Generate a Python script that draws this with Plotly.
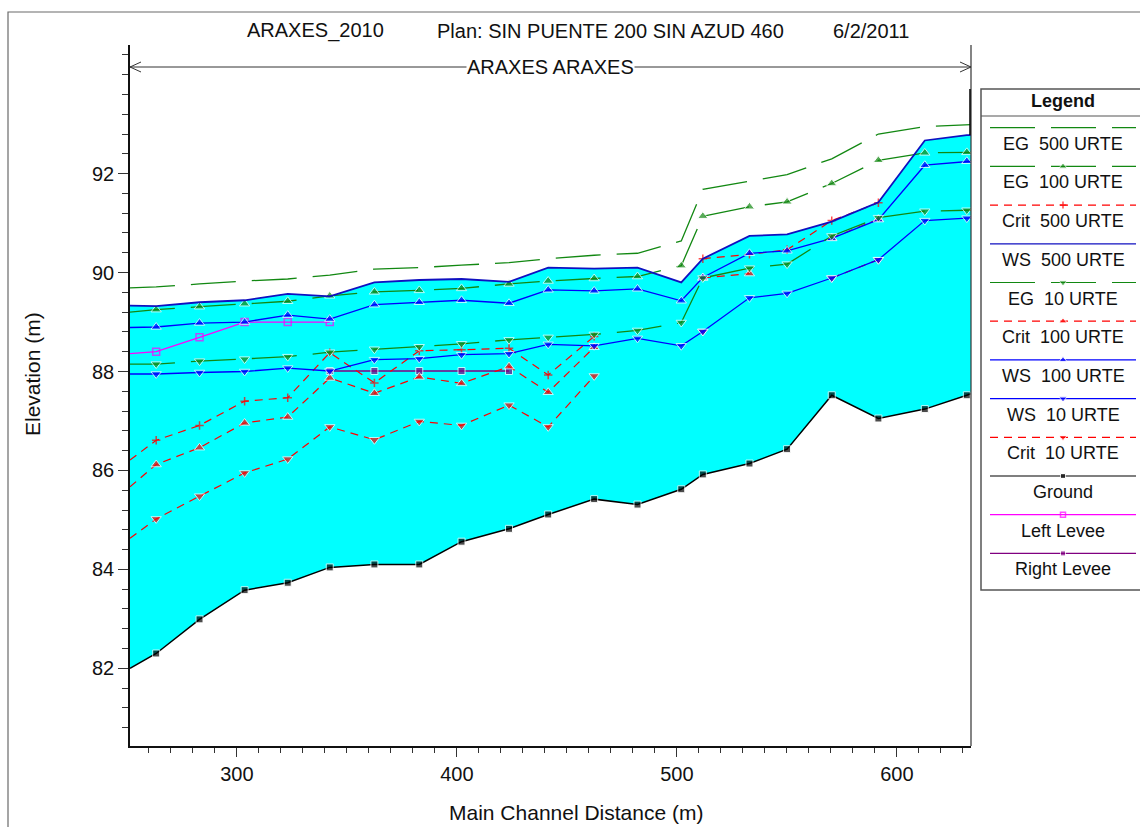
import plotly.graph_objects as go

W, H = 1140, 827

# ---------------- data ----------------
stations = [251.4, 263.3, 283.0, 303.5, 323.1, 342.2, 362.5, 382.9, 402.1, 423.7,
            441.5, 462.4, 482.1, 502.0, 511.8, 533.0, 550.1, 570.4, 591.6, 612.7,
            631.8, 633.7]

ground = [82.00, 82.30, 82.99, 83.58, 83.73, 84.04, 84.10, 84.10, 84.56, 84.82,
          85.11, 85.42, 85.31, 85.62, 85.92, 86.14, 86.43, 87.52, 87.05, 87.24,
          87.52, 87.55]
ws_500 = [89.33, 89.32, 89.40, 89.44, 89.57, 89.52, 89.80, 89.85, 89.87, 89.81,
          90.10, 90.08, 90.10, 89.80, 90.28, 90.74, 90.77, 91.03, 91.42, 92.67,
          92.78, 92.78]
eg_500 = [89.69, 89.71, 89.77, 89.83, 89.87, 89.95, 90.07, 90.10, 90.15, 90.20,
          90.28, 90.35, 90.39, 90.64, 91.68, 91.85, 91.98, 92.30, 92.80, 92.95,
          92.99, 92.99]
eg_100 = [89.20, 89.25, 89.31, 89.37, 89.42, 89.53, 89.61, 89.64, 89.68, 89.77,
          89.83, 89.88, 89.92, 90.14, 91.14, 91.33, 91.43, 91.80, 92.27, 92.42,
          92.43, 92.43]
ws_100 = [88.89, 88.90, 88.98, 89.00, 89.14, 89.06, 89.35, 89.40, 89.44, 89.38,
          89.65, 89.63, 89.67, 89.43, 89.90, 90.39, 90.44, 90.69, 91.07, 92.17,
          92.25, 92.25]
eg_10 = [88.15, 88.15, 88.21, 88.25, 88.30, 88.39, 88.45, 88.50, 88.56, 88.64,
         88.69, 88.75, 88.83, 88.99, 89.89, 90.09, 90.17, 90.74, 91.11, 91.24,
         91.26, 91.26]
ws_10 = [87.95, 87.95, 87.98, 88.00, 88.07, 88.01, 88.24, 88.26, 88.34, 88.36,
         88.55, 88.52, 88.67, 88.52, 88.81, 89.49, 89.58, 89.89, 90.26, 91.05,
         91.10, 91.10]
crit_500 = [86.21, 86.61, 86.91, 87.40, 87.47, 88.38, 87.77, 88.42, 88.44, 88.47,
            87.93, 88.71, None, None, 90.28, 90.37, 90.46, 91.05, 91.41, None,
            None, None]
crit_100 = [85.67, 86.12, 86.46, 86.96, 87.08, 87.87, 87.56, 87.89, 87.76, 88.10,
            87.58, 88.49, None, None, 89.89, 89.98, None, 90.70, 91.08, None,
            None, None]
crit_10 = [84.63, 85.02, 85.48, 85.95, 86.23, 86.88, 86.62, 86.99, 86.91, 87.32,
           86.88, 87.91, None, None, 88.81, None, None, 89.89, 90.26, None,
           None, None]
left_levee = [88.36, 88.40, 88.69, 89.00, 89.00, 89.00, None, None, None, None,
              None, None, None, None, None, None, None, None, None, None,
              None, None]
right_levee = [None, None, None, None, None, 88.01, 88.01, 88.01, 88.01, 88.01,
               None, None, None, None, None, None, None, None, None, None,
               None, None]
end_wall = [92.78, 93.71]          # short heavy segment at the downstream end

x_ticks = [300, 400, 500, 600]
y_ticks = [82, 84, 86, 88, 90, 92]
x_range = [251.4, 633.7]
y_range = [80.43, 94.60]

title_parts = ["ARAXES_2010", "Plan: SIN PUENTE 200 SIN AZUD 460", "6/2/2011"]
reach_label = "ARAXES ARAXES"
x_title = "Main Channel Distance (m)"
y_title = "Elevation (m)"

# ---------------- styles ----------------
FONT = "Arial, 'Liberation Sans', sans-serif"
GREEN = "#128812"
RED = "#ff0000"
BLUE = "#0000ff"
DKBLUE = "#1010c0"
MAGENTA = "#ff00ff"
PURPLE = "#800080"
EG_DASH = "45px,16px"
CR_DASH = "8px,6px"

# name, values, color, dash, width, symbol, marker size
series = [
    ("EG\u00a0 500 URTE", eg_500, GREEN, EG_DASH, 1.3, None, 0),
    ("EG\u00a0 100 URTE", eg_100, GREEN, EG_DASH, 1.3, "triangle-up", 9),
    ("Crit\u00a0 500 URTE", crit_500, RED, CR_DASH, 1.2, "cross-thin", 6),
    ("WS\u00a0 500 URTE", ws_500, DKBLUE, "solid", 1.8, None, 0),
    ("EG\u00a0 10 URTE", eg_10, GREEN, EG_DASH, 1.3, "triangle-down", 9),
    ("Crit\u00a0 100 URTE", crit_100, RED, CR_DASH, 1.2, "triangle-up", 9),
    ("WS\u00a0 100 URTE", ws_100, BLUE, "solid", 1.3, "triangle-up", 9),
    ("WS\u00a0 10 URTE", ws_10, BLUE, "solid", 1.3, "triangle-down", 9),
    ("Crit\u00a0 10 URTE", crit_10, RED, CR_DASH, 1.2, "triangle-down", 9),
    ("Ground", ground, "#000000", "solid", 1.5, "square", 7),
    ("Left Levee", left_levee, MAGENTA, "solid", 1.3, "square-open", 7),
    ("Right Levee", right_levee, PURPLE, "solid", 1.3, "square", 7),
]

n = len(stations)


def msizes(size):
    # no symbol on the two sections that sit on the plot frame
    return [0] + [size] * (n - 2) + [0]


def marker_for(color, symbol, size):
    if symbol is None:
        return None
    m = dict(symbol=symbol, color=color, size=msizes(size))
    if symbol in ("cross-thin", "square-open"):
        m["line"] = dict(color=color, width=1.5)
    return m


fig = go.Figure()

# cyan water body between ground and the highest water surface
fig.add_trace(go.Scatter(x=stations, y=ground, mode="lines",
                         line=dict(width=0, color="rgba(0,0,0,0)"),
                         hoverinfo="skip", showlegend=False))
fig.add_trace(go.Scatter(x=stations, y=ws_500, mode="lines", fill="tonexty",
                         fillcolor="#00ffff", line=dict(width=0, color="rgba(0,0,0,0)"),
                         hoverinfo="skip", showlegend=False))

draw_order = [9, 11, 10, 8, 5, 2, 7, 6, 4, 1, 0, 3]
for i in draw_order:
    name, vals, color, dash, width, symbol, size = series[i]
    mk = marker_for(color, symbol, size)
    fig.add_trace(go.Scatter(
        x=stations, y=vals, name=name,
        mode="lines+markers" if mk else "lines",
        line=dict(color=color, dash=dash, width=width),
        marker=mk, connectgaps=False, showlegend=False))

# heavy segment at the downstream end of the reach
fig.add_trace(go.Scatter(x=[x_range[1], x_range[1]], y=end_wall, mode="lines",
                         line=dict(color="#000000", width=3.5),
                         hoverinfo="skip", showlegend=False))

# ---------------- pixel helpers for decorations ----------------
def px(xp):
    return xp / W


def py(yp):
    return 1 - yp / H


X0, X1 = 130, 971          # plot frame left / right (px)
Y0, Y1 = 45, 746           # plot frame top / bottom (px)

shapes = []
annotations = []

# outer frame of the window
shapes.append(dict(type="rect", xref="paper", yref="paper",
                   x0=px(8), x1=px(W + 20), y0=py(12), y1=py(H + 20),
                   line=dict(color="#6a6a6a", width=1.2)))
# reach boundary on the right
shapes.append(dict(type="line", xref="paper", yref="paper",
                   x0=px(X1), x1=px(X1), y0=py(Y0), y1=py(Y1),
                   line=dict(color="#333333", width=1.2)))
# reach arrow
RY = 67
shapes.append(dict(type="line", xref="paper", yref="paper",
                   x0=px(X0), x1=px(X1), y0=py(RY), y1=py(RY),
                   line=dict(color="#333333", width=1)))
for tip, back in ((X0, X0 + 11), (X1, X1 - 11)):
    shapes.append(dict(type="path", xref="paper", yref="paper",
                       path=f"M {px(back)},{py(RY - 5)} L {px(tip)},{py(RY)} L {px(back)},{py(RY + 5)}",
                       line=dict(color="#333333", width=1)))
annotations.append(dict(xref="paper", yref="paper", x=px(550), y=py(RY), text=reach_label,
                        showarrow=False, xanchor="center", yanchor="middle",
                        bgcolor="white", borderpad=0,
                        font=dict(family=FONT, size=20, color="#111111")))

# title
for text, left in zip(title_parts, (245, 435, 831)):
    annotations.append(dict(xref="paper", yref="paper", x=px(left), y=py(31), text=text,
                            showarrow=False, xanchor="left", yanchor="middle",
                            font=dict(family=FONT, size=20, color="#111111")))

# axis titles
annotations.append(dict(xref="paper", yref="paper", x=px(576), y=py(812), text=x_title,
                        showarrow=False, xanchor="center", yanchor="middle",
                        font=dict(family=FONT, size=21, color="#111111")))
annotations.append(dict(xref="paper", yref="paper", x=px(32), y=py(374), text=y_title,
                        showarrow=False, xanchor="center", yanchor="middle", textangle=-90,
                        font=dict(family=FONT, size=21, color="#111111")))

# ---------------- legend panel ----------------
LX0, LX1, LY0, LY1 = 981, 1140, 89, 590
shapes.append(dict(type="rect", xref="paper", yref="paper",
                   x0=px(LX0), x1=px(LX1 + 15), y0=py(LY0), y1=py(LY1),
                   line=dict(color="#555555", width=1.5), fillcolor="white", layer="below"))
shapes.append(dict(type="line", xref="paper", yref="paper",
                   x0=px(LX0), x1=px(LX1), y0=py(116), y1=py(116),
                   line=dict(color="#555555", width=1.2)))
annotations.append(dict(xref="paper", yref="paper", x=px(1063), y=py(101), text="<b>Legend</b>",
                        showarrow=False, xanchor="center", yanchor="middle",
                        font=dict(family=FONT, size=18, color="#111111")))

for k, (name, vals, color, dash, width, symbol, size) in enumerate(series):
    yl = 127.7 + 38.7 * k
    mk = None
    if symbol is not None:
        mk = dict(symbol=symbol, color=color, size=[0, max(size - 2, 5), 0])
        if symbol in ("cross-thin", "square-open"):
            mk["line"] = dict(color=color, width=1.5)
    fig.add_trace(go.Scatter(
        x=[990, 1063, 1136], y=[yl, yl, yl], xaxis="x2", yaxis="y2",
        mode="lines+markers" if mk else "lines",
        line=dict(color=color, dash=dash, width=1.2), marker=mk,
        hoverinfo="skip", showlegend=False))
    annotations.append(dict(xref="x2", yref="y2", x=1063, y=yl + 16, text=name,
                            showarrow=False, xanchor="center", yanchor="middle",
                            font=dict(family=FONT, size=18, color="#111111")))

fig.update_layout(
    width=W, height=H,
    margin=dict(l=0, r=0, t=0, b=0),
    paper_bgcolor="white", plot_bgcolor="rgba(0,0,0,0)",
    showlegend=False,
    font=dict(family=FONT, size=20, color="#111111"),
    xaxis=dict(domain=[px(X0), px(X1)], range=x_range, tickmode="array", tickvals=x_ticks,
               showline=True, linecolor="#111111", linewidth=1.5, mirror=False,
               ticks="outside", ticklen=9, tickwidth=1.2, tickcolor="#333333",
               tickfont=dict(family=FONT, size=20, color="#111111"),
               showgrid=False, zeroline=False, automargin=False,
               minor=dict(tickmode="linear", tick0=260, dtick=10, ticks="outside",
                          ticklen=5, tickwidth=1.2, tickcolor="#333333", showgrid=False)),
    yaxis=dict(domain=[py(Y1), py(Y0)], range=y_range, tickmode="array", tickvals=y_ticks,
               showline=True, linecolor="#111111", linewidth=1.5, mirror=False,
               ticks="outside", ticklen=10, tickwidth=1.2, tickcolor="#333333",
               tickfont=dict(family=FONT, size=20, color="#111111"),
               showgrid=False, zeroline=False, automargin=False,
               minor=dict(tickmode="linear", tick0=80.4, dtick=0.4, ticks="outside",
                          ticklen=6, tickwidth=1.2, tickcolor="#333333", showgrid=False)),
    xaxis2=dict(domain=[px(LX0), 1.0], range=[LX0, LX1], visible=False, fixedrange=True),
    yaxis2=dict(domain=[py(LY1), py(LY0)], range=[LY1, LY0], visible=False, fixedrange=True),
    shapes=shapes, annotations=annotations,
)

fig.write_html("out.html", config={"displayModeBar": False},
               post_script="document.body.style.margin='0';document.body.style.overflow='hidden';")
